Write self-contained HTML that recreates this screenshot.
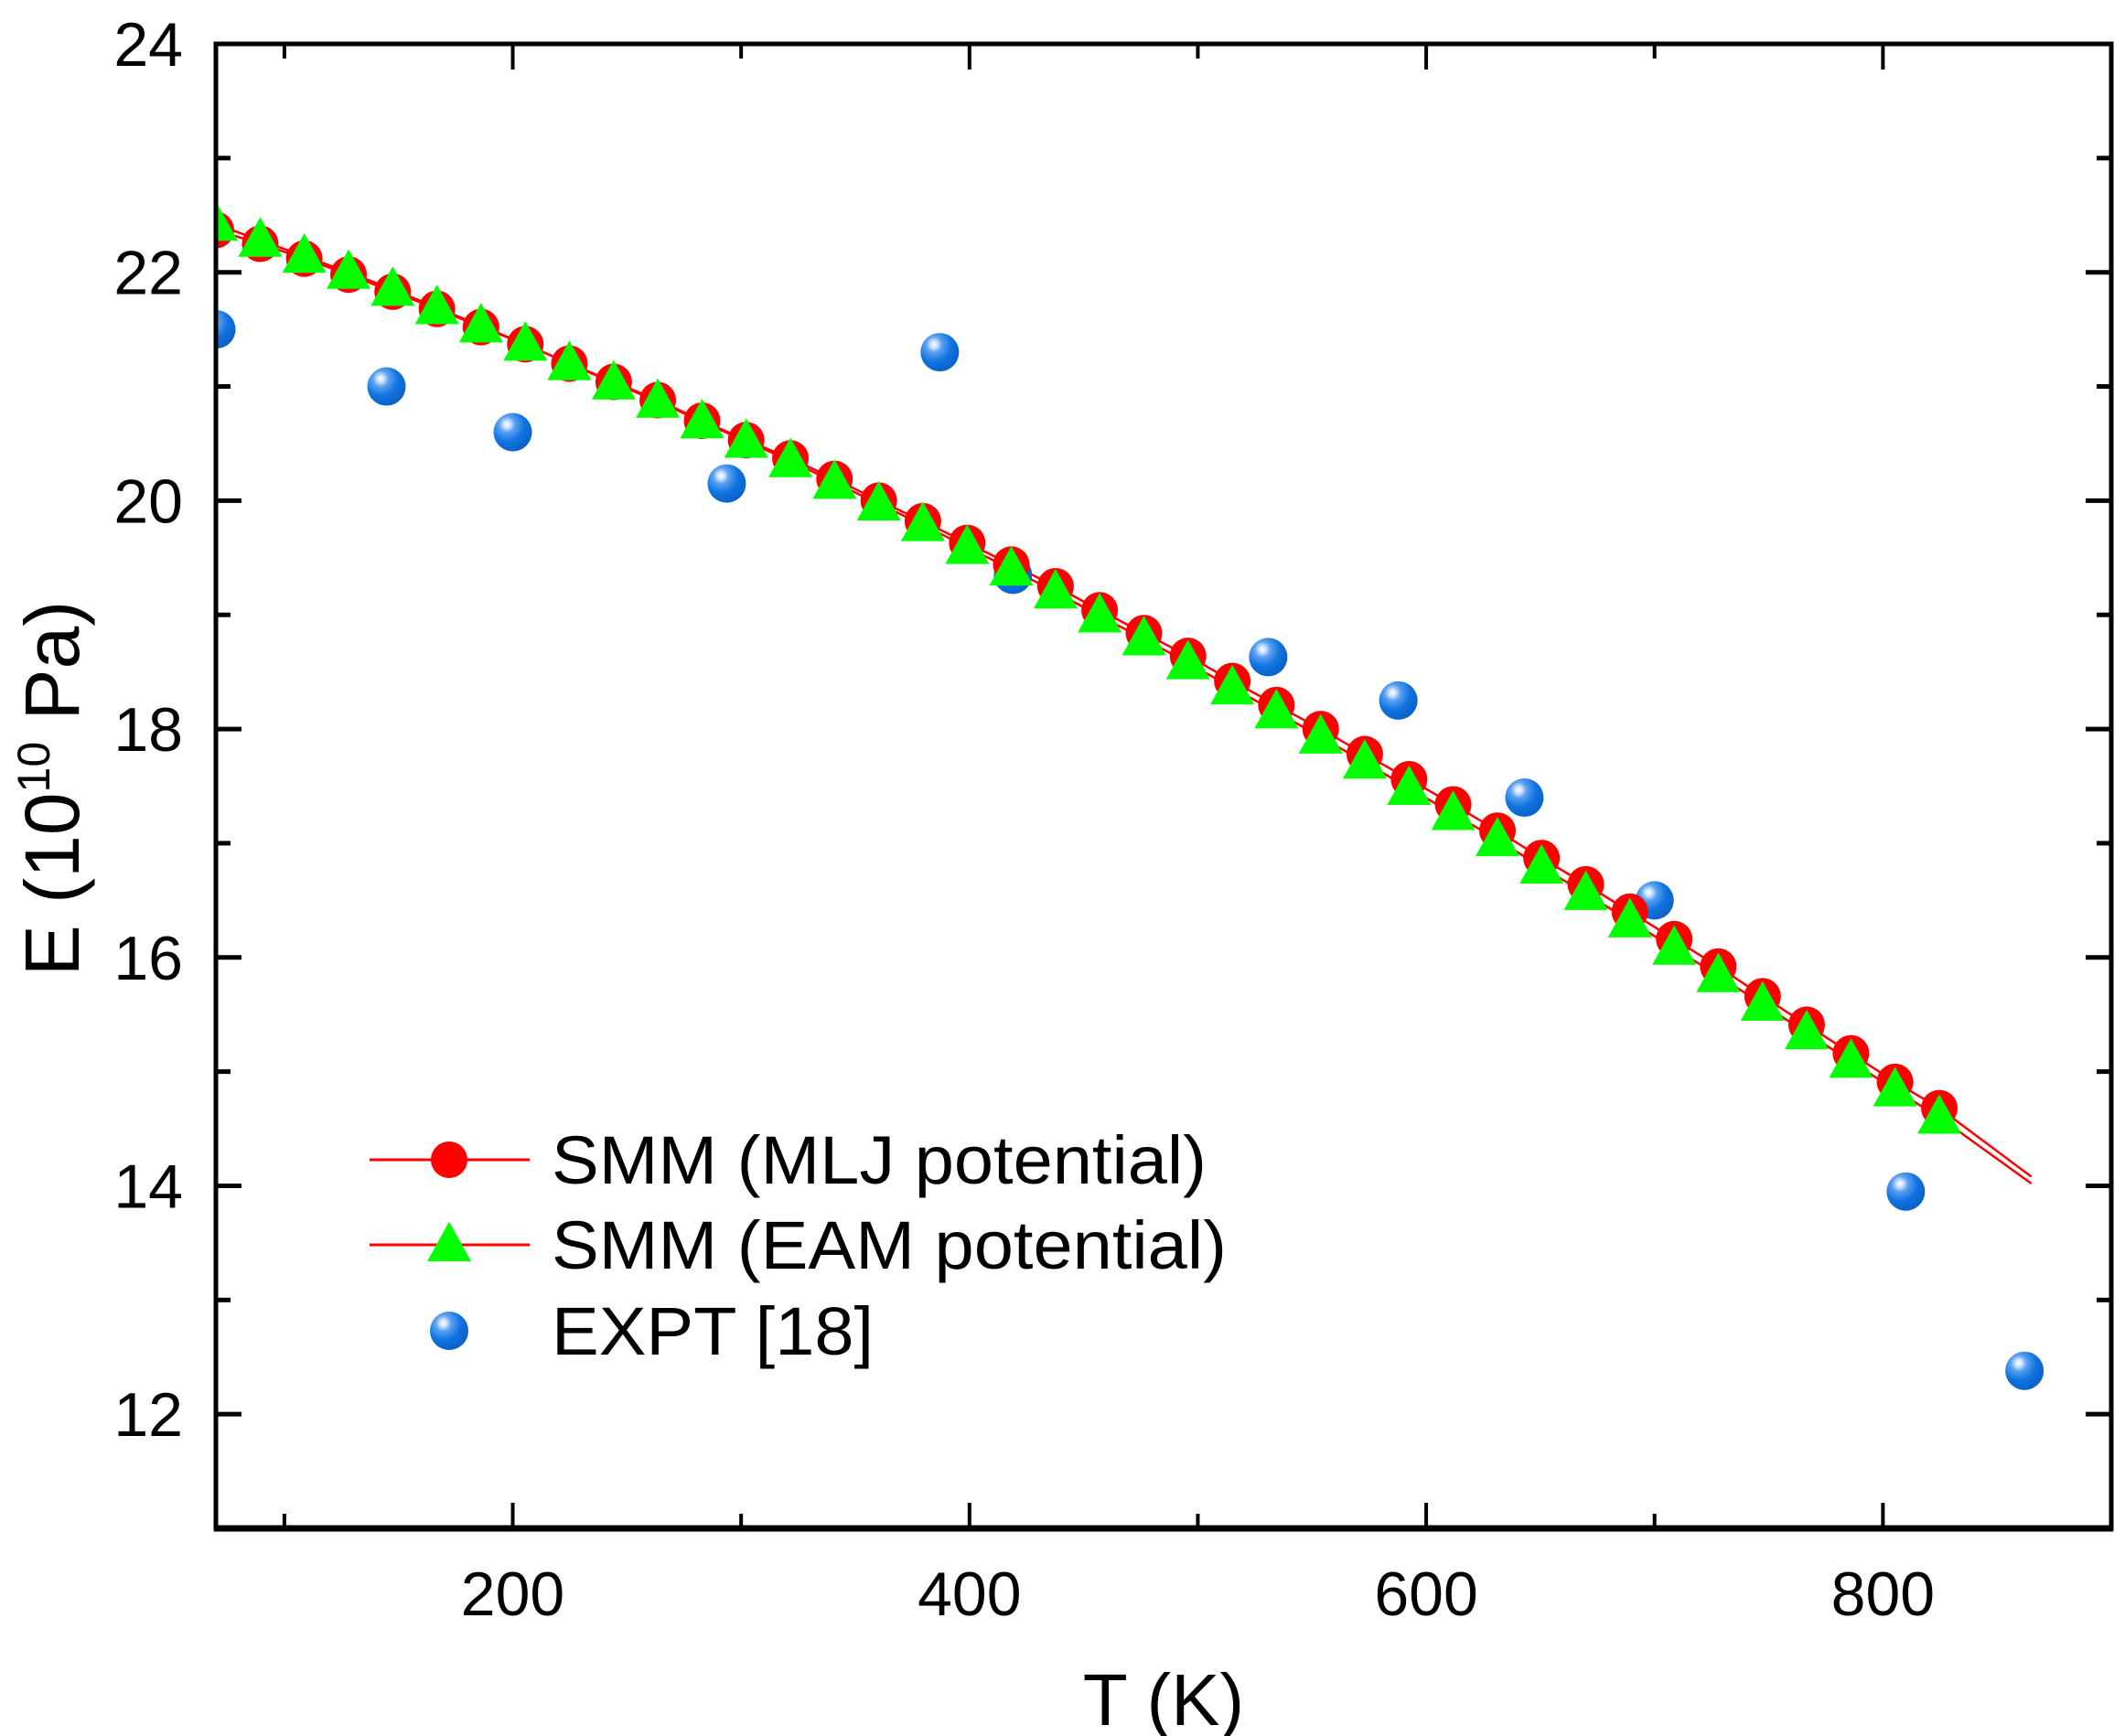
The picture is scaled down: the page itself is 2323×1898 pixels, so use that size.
<!DOCTYPE html>
<html><head><meta charset="utf-8"><style>
html,body{margin:0;padding:0;background:#fff;}
svg{display:block;font-family:"Liberation Sans",Arial,sans-serif;}
</style></head><body>
<svg id="chart" width="2323" height="1898" viewBox="0 0 2323 1898" xmlns="http://www.w3.org/2000/svg">
<defs>
<radialGradient id="sph" cx="0.35" cy="0.3" r="0.75">
<stop offset="0" stop-color="#ffffff"/><stop offset="0.12" stop-color="#cfe3ff"/><stop offset="0.28" stop-color="#5aa0f0"/><stop offset="0.6" stop-color="#1173e0"/><stop offset="1" stop-color="#0a5fc4"/>
</radialGradient>
<clipPath id="clip"><rect x="236" y="48" width="2072" height="1623"/></clipPath>
</defs>
<g id="marks" clip-path="url(#clip)"></g>
<g id="axes"></g>
<g id="legend"></g>
</svg>
<script>
const mljT = [70,89.4,108.7,128.1,147.4,166.8,186.1,205.5,224.8,244.2,263.5,282.9,302.2,321.6,340.9,360.3,379.6,399,418.3,437.7,457,476.4,495.7,515.1,534.4,553.8,573.1,592.5,611.8,631.2,650.5,669.9,689.2,708.6,727.9,747.3,766.6,786,805.3,824.7];
const mljE = [22.37,22.25,22.12,21.98,21.83,21.68,21.52,21.37,21.2,21.04,20.88,20.7,20.53,20.37,20.19,20.0,19.82,19.63,19.44,19.25,19.04,18.84,18.64,18.42,18.21,18.0,17.78,17.56,17.34,17.11,16.87,16.64,16.4,16.16,15.92,15.66,15.41,15.16,14.91,14.68];
const eamE = [22.42,22.28,22.14,22.0,21.85,21.69,21.53,21.37,21.2,21.03,20.87,20.69,20.52,20.35,20.16,19.97,19.79,19.59,19.4,19.2,18.99,18.79,18.58,18.36,18.15,17.93,17.71,17.48,17.26,17.03,16.79,16.56,16.32,16.08,15.84,15.59,15.34,15.09,14.84,14.6];
const lineEndT = [865,865];
const lineEndE = [14.08,14.02];
const expT = [70.2,144.7,200,293.7,387,419,530.8,587.8,643,700,810,862];
const expE = [21.5,21.0,20.6,20.15,21.3,19.35,18.63,18.25,17.4,16.5,13.95,12.38];
const xTicks = [200,400,600,800];
const xMinor = [100,300,500,700];
const yTicks = [12,14,16,18,20,22,24];
const yMinor = [13,15,17,19,21,23];

const L=236,R=2308,T=48,B=1671,xmin=70,xmax=900,ymin=11,ymax=24;
const X=v=>L+(v-xmin)/(xmax-xmin)*(R-L);
const Y=v=>T+(ymax-v)/(ymax-ymin)*(B-T);
const NS="http://www.w3.org/2000/svg";
function mk(tag,attrs,parent){const e=document.createElementNS(NS,tag);for(const k in attrs)e.setAttribute(k,attrs[k]);parent.appendChild(e);return e;}
const marks=document.getElementById('marks'),axes=document.getElementById('axes'),leg=document.getElementById('legend');

const p1=mljT.map((t,i)=>X(t)+','+Y(mljE[i])).concat([X(lineEndT[0])+','+Y(lineEndE[0])]).join(' ');
const l1=mk('polyline',{points:p1,fill:'none',stroke:'#ff0000','stroke-width':2.5},marks);


const p2=mljT.map((t,i)=>X(t)+','+Y(eamE[i])).concat([X(lineEndT[1])+','+Y(lineEndE[1])]).join(' ');
const l2=mk('polyline',{points:p2,fill:'none',stroke:'#ff0000','stroke-width':2.5},marks);


expT.forEach((t,i)=>{const c=mk('circle',{cx:X(t),cy:Y(expE[i]),r:21,fill:'url(#sph)'},marks);

});
mljT.forEach((t,i)=>{const c=mk('circle',{cx:X(t),cy:Y(mljE[i]),r:20,fill:'#ff0000'},marks);

});
function tri(cx,cy,s){return `${cx},${cy-s*1.05} ${cx+s*1.0},${cy+s*0.75} ${cx-s*1.0},${cy+s*0.75}`;}
mljT.forEach((t,i)=>{const p=mk('polygon',{points:tri(X(t),Y(eamE[i]),24),fill:'#00ff00'},marks);

});

const fr=mk('rect',{x:L,y:T,width:R-L,height:B-T,fill:'none',stroke:'#000','stroke-width':5},axes);


const bl=mk('line',{x1:L-2,y1:B,x2:R+2,y2:B,stroke:'#000','stroke-width':7},axes);


xTicks.forEach(v=>{const x=X(v);
mk('line',{x1:x,y1:B,x2:x,y2:B-28,stroke:'#000','stroke-width':4},axes);
mk('line',{x1:x,y1:T,x2:x,y2:T+28,stroke:'#000','stroke-width':4},axes);
const t=mk('text',{x:x,y:1766,'font-size':68,'text-anchor':'middle'},axes);t.textContent=v;

});
xMinor.forEach(v=>{const x=X(v);
mk('line',{x1:x,y1:B,x2:x,y2:B-16,stroke:'#000','stroke-width':4},axes);
mk('line',{x1:x,y1:T,x2:x,y2:T+16,stroke:'#000','stroke-width':4},axes);});
yTicks.forEach(v=>{const y=Y(v);
mk('line',{x1:L,y1:y,x2:L+28,y2:y,stroke:'#000','stroke-width':5},axes);
mk('line',{x1:R,y1:y,x2:R-28,y2:y,stroke:'#000','stroke-width':5},axes);
const t=mk('text',{x:200,y:y+24,'font-size':68,'text-anchor':'end'},axes);t.textContent=v;

});
yMinor.forEach(v=>{const y=Y(v);
mk('line',{x1:L,y1:y,x2:L+16,y2:y,stroke:'#000','stroke-width':5},axes);
mk('line',{x1:R,y1:y,x2:R-16,y2:y,stroke:'#000','stroke-width':5},axes);});
const xt=mk('text',{x:1272,y:1886,'font-size':80,'text-anchor':'middle'},axes);xt.textContent='T (K)';


const yt=mk('text',{x:0,y:0,'font-size':84,'text-anchor':'middle',transform:'translate(86,862) rotate(-90)'},axes);
yt.innerHTML='E (10<tspan font-size="50" dy="-32">10</tspan><tspan dy="32"> Pa)</tspan>';



const rows=[['SMM (MLJ potential)',1268,'c',716],['SMM (EAM potential)',1361,'t',738],['EXPT [18]',1455,'s',352]];
rows.forEach(([label,y,k,w])=>{
const g=mk('g',{},leg);


if(k!=='s')mk('line',{x1:404,y1:y,x2:579,y2:y,stroke:'#ff0000','stroke-width':3},g);
if(k==='c')mk('circle',{cx:491,cy:y,r:20,fill:'#ff0000'},g);
if(k==='t')mk('polygon',{points:tri(491,y,24),fill:'#00ff00'},g);
if(k==='s')mk('circle',{cx:491,cy:y,r:21,fill:'url(#sph)'},g);
const t=mk('text',{x:603,y:y+26,'font-size':74,textLength:w,lengthAdjust:'spacingAndGlyphs'},g);t.textContent=label;});
</script>
</body></html>
